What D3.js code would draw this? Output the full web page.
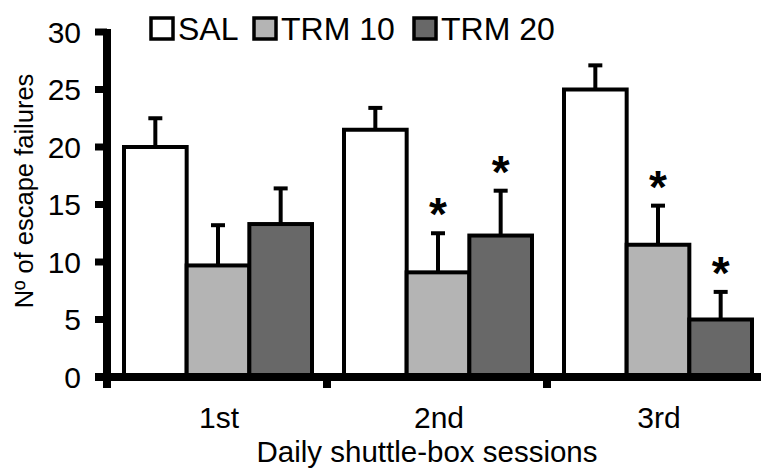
<!DOCTYPE html>
<html>
<head>
<meta charset="utf-8">
<script src="https://cdn.jsdelivr.net/npm/d3@7"></script>
<style>
  body { margin: 0; background: #fff; }
  svg { display: block; font-family: "Liberation Sans", Arial, sans-serif; }
</style>
</head>
<body>
<svg id="chart" width="761" height="469"></svg>
<script>
const sessions = ["1st", "2nd", "3rd"];
const groups = ["SAL", "TRM 10", "TRM 20"];
const salMeans = [20.0, 21.5, 25.0];
const salErrors = [2.5, 1.9, 2.1];
const trm10Means = [9.7, 9.1, 11.5];
const trm10Errors = [3.5, 3.4, 3.4];
const trm20Means = [13.3, 12.3, 5.0];
const trm20Errors = [3.1, 3.9, 2.4];
const trm10Signif = [false, true, true];
const trm20Signif = [false, true, true];
const yTicks = [0, 5, 10, 15, 20, 25, 30];

const colors = { "SAL": "#ffffff", "TRM 10": "#b4b4b4", "TRM 20": "#686868" };

const rows = [];
sessions.forEach((s, i) => {
  rows.push({ session: s, group: "SAL", mean: salMeans[i], err: salErrors[i], sig: false });
  rows.push({ session: s, group: "TRM 10", mean: trm10Means[i], err: trm10Errors[i], sig: trm10Signif[i] });
  rows.push({ session: s, group: "TRM 20", mean: trm20Means[i], err: trm20Errors[i], sig: trm20Signif[i] });
});

const svg = d3.select("#chart");
const axisX = 107;   // y-axis line position
const axisY = 377;   // x-axis line position

const y = d3.scaleLinear().domain([0, 30]).range([axisY, 32]);
const x = d3.scaleBand().domain(sessions).range([axisX, axisX + 660]);
const inner = d3.scaleBand().domain(groups).range([17, 205]);

// bars
const bars = svg.append("g");
bars.selectAll("rect")
  .data(rows)
  .enter().append("rect")
  .attr("x", d => x(d.session) + inner(d.group))
  .attr("y", d => y(d.mean))
  .attr("width", inner.bandwidth())
  .attr("height", d => y(0) - y(d.mean))
  .attr("fill", d => colors[d.group])
  .attr("stroke", "#000")
  .attr("stroke-width", 4);

// error bars (upper only)
const errs = svg.append("g").attr("stroke", "#000").attr("stroke-width", 4);
rows.forEach(d => {
  const cx = x(d.session) + inner(d.group) + inner.bandwidth() / 2;
  errs.append("line")
    .attr("x1", cx).attr("x2", cx)
    .attr("y1", y(d.mean)).attr("y2", y(d.mean + d.err));
  errs.append("line")
    .attr("x1", cx - 7).attr("x2", cx + 7)
    .attr("y1", y(d.mean + d.err)).attr("y2", y(d.mean + d.err));
});

// asterisks
svg.append("g").selectAll("text")
  .data(rows.filter(d => d.sig))
  .enter().append("text")
  .attr("x", d => x(d.session) + inner(d.group) + inner.bandwidth() / 2)
  .attr("y", d => y(d.mean + d.err) - 3)
  .attr("text-anchor", "middle")
  .style("font-size", "46px")
  .style("font-weight", "bold")
  .text("*");

// y axis
const yAxis = svg.append("g");
yAxis.append("line")
  .attr("x1", axisX).attr("x2", axisX)
  .attr("y1", y(30) - 3).attr("y2", axisY)
  .attr("stroke", "#000").attr("stroke-width", 8);
yAxis.selectAll(".tick")
  .data(yTicks)
  .enter().append("line")
  .attr("x1", 95).attr("x2", axisX)
  .attr("y1", d => y(d)).attr("y2", d => y(d))
  .attr("stroke", "#000").attr("stroke-width", 7);
yAxis.selectAll("text")
  .data(yTicks)
  .enter().append("text")
  .attr("x", 81)
  .attr("y", d => y(d))
  .attr("dy", "0.36em")
  .attr("text-anchor", "end")
  .style("font-size", "30px")
  .text(d => d);

// x axis
const xAxis = svg.append("g");
xAxis.append("line")
  .attr("x1", 95).attr("x2", 761)
  .attr("y1", axisY).attr("y2", axisY)
  .attr("stroke", "#000").attr("stroke-width", 8);
xAxis.selectAll(".tick")
  .data(sessions)
  .enter().append("line")
  .attr("x1", d => x(d)).attr("x2", d => x(d))
  .attr("y1", axisY).attr("y2", 388)
  .attr("stroke", "#000").attr("stroke-width", 8);
xAxis.selectAll("text")
  .data(sessions)
  .enter().append("text")
  .attr("x", d => x(d) + x.bandwidth() / 2 + 2)
  .attr("y", 428)
  .attr("text-anchor", "middle")
  .style("font-size", "30px")
  .text(d => d);

// axis titles
svg.append("text")
  .attr("x", 427)
  .attr("y", 462)
  .attr("text-anchor", "middle")
  .style("font-size", "29.5px")
  .text("Daily shuttle-box sessions");

svg.append("text")
  .attr("transform", "translate(33,191) rotate(-90)")
  .attr("text-anchor", "middle")
  .style("font-size", "25.5px")
  .text("Nº of escape failures");

// legend
const legendX = [151, 254, 414];
const legend = svg.append("g");
groups.forEach((g, i) => {
  legend.append("rect")
    .attr("x", legendX[i]).attr("y", 18)
    .attr("width", 22).attr("height", 21)
    .attr("fill", colors[g])
    .attr("stroke", "#000").attr("stroke-width", 3.5);
  legend.append("text")
    .attr("x", legendX[i] + 27).attr("y", 40)
    .style("font-size", "32px")
    .text(g);
});
</script>
</body>
</html>
